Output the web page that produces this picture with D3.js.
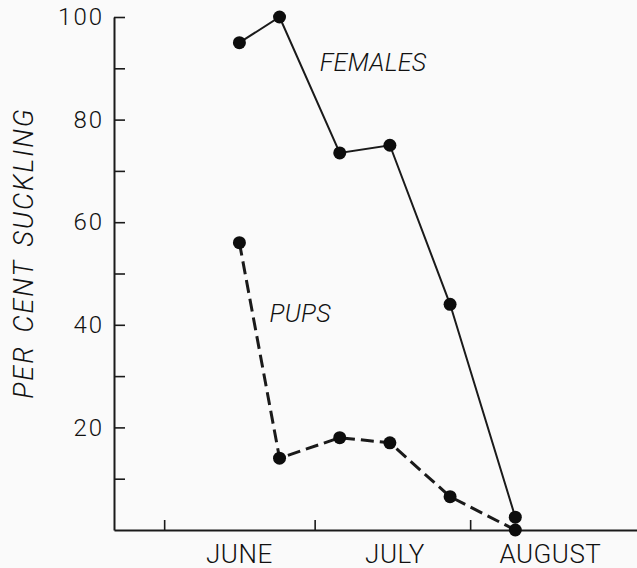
<!DOCTYPE html>
<html>
<head>
<meta charset="utf-8">
<script src="https://cdn.jsdelivr.net/npm/d3@7"></script>
<style>
  html, body { margin: 0; padding: 0; background: #fafafa; }
  svg { display: block; }
  text { font-family: Roboto, "Liberation Sans", sans-serif; font-weight: 300; fill: #111; }
</style>
</head>
<body>
<svg id="chart" width="637" height="568"></svg>
<script>
// ---- data ----
const dates = ["1950-06-16", "1950-06-24", "1950-07-06", "1950-07-16", "1950-07-28", "1950-08-10"];
const females = [95, 100, 73.5, 75, 44, 2.5];
const pups = [56, 14, 18, 17, 6.5, 0];
const monthStarts = ["1950-06-01", "1950-07-01", "1950-08-01"];
const monthLabels = ["JUNE", "JULY", "AUGUST"];
const monthLabelDates = ["1950-06-16", "1950-07-17", "1950-08-17"];
const yTicks = [10, 20, 30, 40, 50, 60, 70, 80, 90, 100];
const yLabelTicks = [20, 40, 60, 80, 100];
const seriesNames = ["FEMALES", "PUPS"];
const seriesLabelDates = ["1950-07-02", "1950-06-22"];
const seriesLabelValues = [89.5, 40.5];

const parse = d3.utcParse("%Y-%m-%d");
const svg = d3.select("#chart");
const ink = "#1a1a1a";

const x = d3.scaleUtc()
  .domain([parse("1950-05-22"), parse("1950-09-04")])
  .range([114, 640.7]);
const y = d3.scaleLinear().domain([0, 100]).range([530, 17]);

// x axis
const xAxis = svg.append("g")
  .attr("transform", `translate(0,${y(0)})`)
  .call(d3.axisBottom(x)
    .tickValues(monthStarts.map(parse))
    .tickSize(-10).tickSizeOuter(0)
    .tickFormat(""));
xAxis.select(".domain").attr("stroke", ink).attr("stroke-width", 2);
xAxis.selectAll(".tick line").attr("stroke", ink).attr("stroke-width", 1.6);

svg.append("g").selectAll("text")
  .data(monthLabels)
  .join("text")
  .attr("x", (d, i) => x(parse(monthLabelDates[i])))
  .attr("y", y(0) + 33)
  .attr("text-anchor", "middle")
  .attr("font-size", 26)
  .attr("letter-spacing", 0.5)
  .text(d => d);

// y axis
const yAxis = svg.append("g")
  .attr("transform", `translate(${x.range()[0]},0)`)
  .call(d3.axisLeft(y)
    .tickValues(yTicks)
    .tickSize(-11).tickSizeOuter(0).tickPadding(10)
    .tickFormat(d => yLabelTicks.includes(d) ? d : ""));
yAxis.select(".domain").attr("stroke", ink).attr("stroke-width", 2);
yAxis.selectAll(".tick line").attr("stroke", ink).attr("stroke-width", 1.6);
yAxis.selectAll(".tick text")
  .attr("font-size", 24)
  .attr("letter-spacing", 2)
  .attr("fill", "#111")
  .style("font-family", "Roboto, 'Liberation Sans', sans-serif")
  .style("font-weight", 300);

// y title
svg.append("text")
  .attr("transform", `translate(33,${253}) rotate(-90)`)
  .attr("text-anchor", "middle")
  .attr("font-size", 27)
  .attr("font-style", "italic")
  .attr("letter-spacing", 2)
  .attr("word-spacing", 4)
  .text("PER CENT  SUCKLING");

// lines
const line = d3.line()
  .x((d, i) => x(parse(dates[i])))
  .y(d => y(d));

svg.append("path")
  .datum(females)
  .attr("d", line)
  .attr("fill", "none")
  .attr("stroke", ink)
  .attr("stroke-width", 2);

svg.append("path")
  .datum(pups)
  .attr("d", line)
  .attr("fill", "none")
  .attr("stroke", ink)
  .attr("stroke-width", 3)
  .attr("stroke-dasharray", "13,6");

// markers
[females, pups].forEach(series => {
  svg.append("g").selectAll("circle")
    .data(series)
    .join("circle")
    .attr("cx", (d, i) => x(parse(dates[i])))
    .attr("cy", d => y(d))
    .attr("r", 6.5)
    .attr("fill", "#0d0d0d");
});

// series labels
svg.append("g").selectAll("text")
  .data(seriesNames)
  .join("text")
  .attr("x", (d, i) => x(parse(seriesLabelDates[i])))
  .attr("y", (d, i) => y(seriesLabelValues[i]))
  .attr("font-size", 25)
  .attr("font-style", "italic")
  .attr("letter-spacing", 0.3)
  .text(d => d);
</script>
</body>
</html>
